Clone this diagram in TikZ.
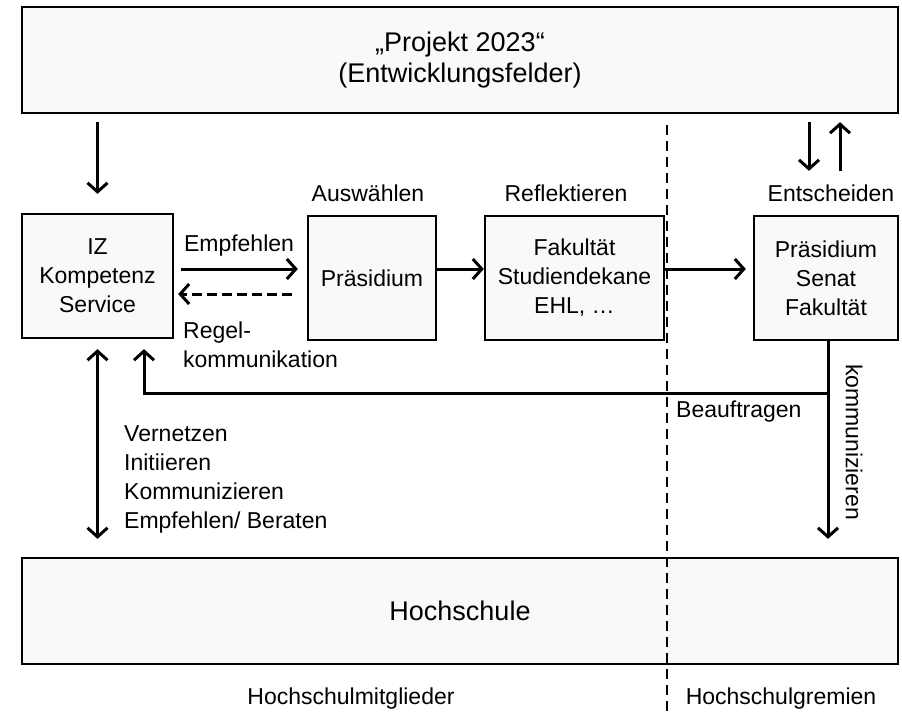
\documentclass[tikz,border=0pt]{standalone}
\usepackage{fontspec}
\setmainfont{Liberation Sans}
\usepackage{xcolor}
\usetikzlibrary{arrows.meta,positioning}
\definecolor{boxfill}{RGB}{250,249,247}

\begin{document}
\begin{tikzpicture}[x=1pt, y=-1pt, >={Straight Barb[length=9pt,width=20pt]},
  every node/.style={inner sep=0pt, font=\fontsize{23}{29}\selectfont},
  box/.style={draw, line width=2.3pt, fill=boxfill, align=center},
  gross/.style={font=\fontsize{27}{31}\selectfont},
  pfeil/.style={line width=3pt},
  trenn/.style={line width=2.6pt, dash pattern=on 10pt off 6pt}]
  \useasboundingbox (0,0) rectangle (902,713);

  % Kaesten
  \node[box, gross, minimum width=876pt, minimum height=106pt] (projekt) at (460,60)
      {„Projekt 2023“\\(Entwicklungsfelder)};
  \node[box, minimum width=151pt, minimum height=124pt] (iz) at (97.5,276)
      {IZ\\Kompetenz\\Service};
  \node[box, minimum width=128pt, minimum height=124pt] (praesidium) at (372,278)
      {Präsidium};
  \node[box, minimum width=179pt, minimum height=124pt] (fakultaet) at (574.5,278)
      {Fakultät\\Studiendekane\\EHL, …};
  \node[box, minimum width=144pt, minimum height=124pt] (gremien) at (826,278)
      {Präsidium\\Senat\\Fakultät};
  \node[box, gross, minimum width=876pt, minimum height=106pt] (hochschule) at (460,611)
      {Hochschule};

  % Beschriftungen
  \node at (368,193) {Auswählen};
  \node at (566,193) {Reflektieren};
  \node at (831,193) {Entscheiden};
  \node at (239,246) {Empfehlen};
  \node[anchor=west, align=left] at (183,345) {Regel-\\kommunikation};
  \node[anchor=west] at (676,412) {Beauftragen};
  \node[rotate=-90] at (854,442) {kommunizieren};
  \node[anchor=west, align=left] at (124,479)
      {Vernetzen\\Initiieren\\Kommunizieren\\Empfehlen/ Beraten};
  \node at (351,699) {Hochschulmitglieder};
  \node at (781,699) {Hochschulgremien};

  % Pfeile oben
  \draw[pfeil,->, shorten <=8pt, shorten >=19pt] (projekt.south -| iz.north) -- (iz.north);
  \draw[pfeil,->, shorten <=8pt, shorten >=44pt]
      ([xshift=-17pt]gremien.north |- projekt.south) -- ([xshift=-17pt]gremien.north);
  \draw[pfeil,->, shorten <=44pt, shorten >=8pt]
      ([xshift=14pt]gremien.north) -- ([xshift=14pt]gremien.north |- projekt.south);

  % Pfeile Mitte
  \draw[pfeil,->, shorten <=7pt, shorten >=9pt]
      ([yshift=7pt]iz.east) -- ([yshift=7pt]iz.east -| praesidium.west);
  \draw[pfeil,->, dash pattern=on 10pt off 5pt, shorten <=15pt, shorten >=4pt]
      ([yshift=-18pt]iz.east -| praesidium.west) -- ([yshift=-18pt]iz.east);
  \draw[pfeil,->] ([yshift=9pt]praesidium.east) -- ([yshift=9pt]praesidium.east -| fakultaet.west);
  \draw[pfeil,->, shorten >=7pt]
      ([yshift=9pt]fakultaet.east) -- ([yshift=9pt]fakultaet.east -| gremien.west);

  % Pfeile unten
  \draw[pfeil,<->, shorten <=10pt, shorten >=18pt] (iz.south) -- (iz.south |- hochschule.north);
  \draw[pfeil,->, shorten >=18pt]
      ([xshift=2pt]gremien.south) -- ([xshift=2pt]gremien.south |- hochschule.north);
  \coordinate (knick) at ([xshift=2pt,yshift=-52pt]gremien.south);
  \draw[pfeil,->, shorten >=10pt] (knick) -| ([xshift=46.5pt]iz.south);

  % Trennlinie
  \draw[trenn] (667,125) -- (667,713);
\end{tikzpicture}
\end{document}
